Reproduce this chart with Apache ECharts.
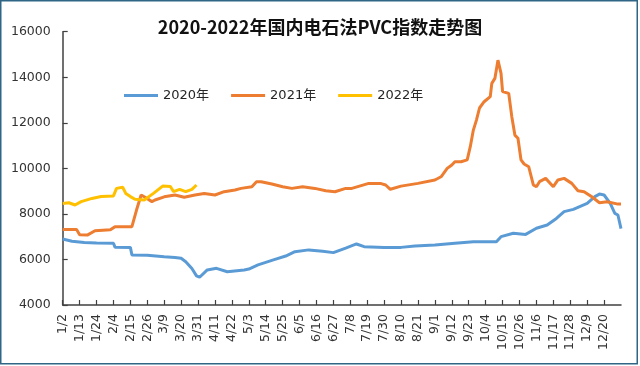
<!DOCTYPE html>
<html>
<head>
<meta charset="utf-8">
<script src="https://cdn.jsdelivr.net/npm/echarts@6/dist/echarts.min.js"></script>
<style>
html,body{margin:0;padding:0;background:#fff;}
#c{width:640px;height:366px;}
</style>
</head>
<body>
<div id="c"></div>
<script>
// Tick labels shown on the date axis (every 11 days)
const tickLabels = ['1/2','1/13','1/24','2/4','2/15','2/26','3/9','3/20','3/31','4/11','4/22','5/3','5/14','5/25','6/5','6/16','6/27','7/8','7/19','7/30','8/10','8/21','9/1','9/12','9/23','10/4','10/15','10/26','11/6','11/17','11/28','12/9','12/20'];
const seriesNames = ['2020年','2021年','2022年'];
const yTicks = { min: 4000, max: 16000, step: 2000 };

// PVC index by date (month/day)
const data2020 = [
 ['1/2',6900],['1/8',6800],['1/16',6740],['1/24',6720],['2/4',6710],['2/5',6540],['2/15',6530],['2/16',6200],
 ['2/26',6180],['3/9',6120],['3/16',6090],['3/20',6050],['3/23',5900],['3/27',5600],['3/30',5280],['4/1',5220],
 ['4/6',5540],['4/12',5610],['4/19',5460],['4/30',5540],['5/3',5580],['5/9',5760],['5/19',5980],['5/27',6150],
 ['6/2',6340],['6/11',6420],['6/20',6360],['6/27',6300],['7/5',6500],['7/12',6680],['7/17',6560],['7/30',6530],
 ['8/10',6530],['8/19',6590],['9/1',6630],['9/14',6710],['9/26',6780],['10/11',6780],['10/14',7000],['10/22',7150],
 ['10/30',7100],['11/6',7370],['11/13',7510],['11/19',7800],['11/24',8100],['11/30',8200],['12/9',8460],
 ['12/14',8760],['12/17',8870],['12/20',8830],['12/24',8460],['12/27',8020],['12/29',7950],['12/31',7350]
];
const data2021 = [
 ['1/2',7320],['1/11',7320],['1/13',7080],['1/18',7070],['1/23',7260],['2/2',7300],['2/5',7440],['2/16',7440],
 ['2/19',8170],['2/22',8830],['2/24',8750],['3/1',8540],['3/3',8610],['3/9',8750],['3/16',8830],['3/22',8730],
 ['3/29',8830],['4/4',8900],['4/11',8830],['4/17',8975],['4/24',9050],['4/28',9120],['5/5',9195],['5/8',9415],
 ['5/11',9415],['5/18',9310],['5/25',9195],['5/31',9120],['6/7',9195],['6/15',9120],['6/22',9020],['6/28',8975],
 ['7/5',9120],['7/9',9120],['7/20',9340],['7/28',9330],['7/31',9270],['8/3',9080],['8/10',9220],['8/21',9340],
 ['9/1',9490],['9/5',9630],['9/9',10000],['9/12',10150],['9/14',10290],['9/18',10290],['9/22',10370],
 ['9/24',10950],['9/26',11680],['9/28',12120],['9/30',12650],['10/3',12925],['10/7',13150],['10/8',13730],
 ['10/10',13950],['10/12',14750],['10/14',14170],['10/15',13370],['10/16',13290],['10/19',13290],['10/21',12270],
 ['10/23',11460],['10/25',11320],['10/27',10370],['10/29',10190],['11/1',10070],['11/4',9270],['11/6',9195],
 ['11/8',9415],['11/12',9560],['11/17',9195],['11/20',9490],['11/24',9560],['11/29',9340],['12/3',9020],
 ['12/7',8975],['12/12',8755],['12/17',8490],['12/22',8535],['12/29',8430],['12/31',8430]
];
const data2022 = [
 ['1/2',8460],['1/6',8490],['1/10',8390],['1/14',8540],['1/21',8680],['1/27',8760],['2/4',8790],['2/6',9120],
 ['2/10',9170],['2/12',8900],['2/15',8760],['2/18',8640],['2/24',8610],['3/2',8900],['3/8',9220],['3/13',9200],
 ['3/15',8980],['3/19',9080],['3/23',8980],['3/27',9080],['3/30',9270]
];

// every calendar day of the (non-leap) axis year, 1/2 .. 12/31
const categories = [];
for (let t = new Date(2021, 0, 2); t.getFullYear() === 2021; t.setDate(t.getDate() + 1)) {
  categories.push((t.getMonth() + 1) + '/' + t.getDate());
}

const chart = echarts.init(document.getElementById('c'), null, { renderer: 'canvas' });
const axisColor = '#404040';
const labelFont = 'DejaVu Sans, Noto Sans CJK SC, sans-serif';
chart.setOption({
  backgroundColor: '#ffffff',
  animation: false,
  title: {
    text: '2020-2022年国内电石法PVC指数走势图',
    left: 'center',
    top: 13,
    textStyle: { fontFamily: 'Noto Sans CJK SC', fontWeight: 'bold', fontSize: 18, color: '#111' }
  },
  legend: {
    left: 119,
    top: 84,
    icon: 'rect',
    itemWidth: 34,
    itemHeight: 3,
    itemGap: 22,
    textStyle: { fontFamily: labelFont, fontSize: 13, color: '#262626' },
    data: seriesNames
  },
  grid: { left: 62.7, right: 19, top: 31.7, bottom: 61 },
  xAxis: {
    type: 'category',
    data: categories,
    boundaryGap: false,
    axisLine: { lineStyle: { color: axisColor, width: 1.5 } },
    axisTick: { inside: true, length: 5, interval: (i, v) => tickLabels.includes(v), lineStyle: { color: axisColor, width: 1.2 } },
    axisLabel: { rotate: 90, margin: 9, interval: (i, v) => tickLabels.includes(v), fontFamily: labelFont, fontSize: 12.5, color: '#333' },
    splitLine: { show: false }
  },
  yAxis: {
    type: 'value',
    min: yTicks.min, max: yTicks.max, interval: yTicks.step,
    axisLine: { show: true, lineStyle: { color: axisColor, width: 1.5 } },
    axisTick: { show: true, inside: true, length: 5, lineStyle: { color: axisColor, width: 1.2 } },
    axisLabel: { margin: 12, fontFamily: labelFont, fontSize: 12.5, color: '#333', formatter: v => String(v) },
    splitLine: { show: false }
  },
  series: [
    { name: seriesNames[0], type: 'line', data: data2020, symbol: 'none', color: '#5B9BD5', lineStyle: { width: 3, color: '#5B9BD5' } },
    { name: seriesNames[1], type: 'line', data: data2021, symbol: 'none', color: '#ED7D31', lineStyle: { width: 3, color: '#ED7D31' } },
    { name: seriesNames[2], type: 'line', data: data2022, symbol: 'none', color: '#FFC000', lineStyle: { width: 3, color: '#FFC000' } }
  ],
  graphic: [{
    type: 'rect', silent: true, z: 100,
    shape: { x: 0.75, y: 0.75, width: 636.5, height: 363 },
    style: { fill: 'none', stroke: '#2f6585', lineWidth: 1.5 }
  }]
});
</script>
</body>
</html>
